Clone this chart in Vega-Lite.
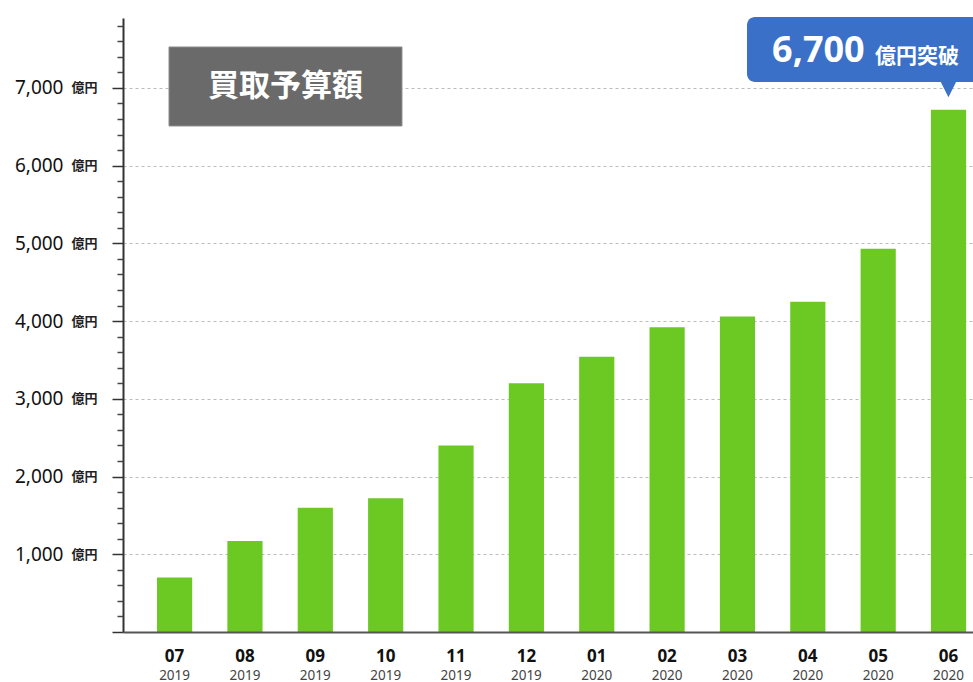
{
  "$schema": "https://vega.github.io/schema/vega-lite/v6.json",
  "width": 850,
  "height": 614,
  "autosize": {"type": "none"},
  "padding": {"left": 123, "top": 18, "right": 0, "bottom": 50},
  "background": "white",
  "config": {"view": {"stroke": null}},
  "data": {
    "values": [
      {"period": "2019-07", "value": 700},
      {"period": "2019-08", "value": 1170},
      {"period": "2019-09", "value": 1600},
      {"period": "2019-10", "value": 1720},
      {"period": "2019-11", "value": 2400},
      {"period": "2019-12", "value": 3200},
      {"period": "2020-01", "value": 3540},
      {"period": "2020-02", "value": 3920},
      {"period": "2020-03", "value": 4060},
      {"period": "2020-04", "value": 4250},
      {"period": "2020-05", "value": 4930},
      {"period": "2020-06", "value": 6720}
    ]
  },
  "resolve": {"scale": {"x": "independent"}, "axis": {"x": "independent", "y": "independent"}},
  "layer": [
    {
      "mark": {"type": "bar", "color": "#6cc924"},
      "encoding": {
        "x": {
          "field": "period", "type": "nominal", "sort": null,
          "scale": {"paddingInner": 0.5, "paddingOuter": 0.2904, "align": 0.832, "round": false},
          "axis": {
            "orient": "bottom", "title": null, "labelExpr": "slice(datum.label, 5)",
            "ticks": false, "labelPadding": 29, "labelBaseline": "alphabetic", "labelAngle": 0,
            "labelFont": "Noto Sans", "labelFontSize": 17, "labelFontWeight": "bold", "labelColor": "#111111",
            "domainColor": "#555555", "domainWidth": 2, "zindex": 1
          }
        },
        "y": {
          "field": "value", "type": "quantitative",
          "scale": {"domain": [0, 7900], "nice": false, "zero": true},
          "axis": {
            "orient": "left", "title": null,
            "values": [0, 1000, 2000, 3000, 4000, 5000, 6000, 7000],
            "labelExpr": "datum.value == 0 ? '' : format(datum.value, ',')",
            "tickSize": 11, "tickWidth": 1.5, "tickColor": "#333333",
            "domainColor": "#333333", "domainWidth": 2,
            "labelPadding": 49, "labelFont": "Noto Sans", "labelFontSize": 19, "labelColor": "#111111",
            "grid": true, "gridDash": [3, 3], "gridColor": "#bbbbbb", "gridWidth": 1
          }
        }
      }
    },
    {
      "mark": {"type": "bar", "opacity": 0},
      "encoding": {
        "x": {
          "field": "period", "type": "nominal", "sort": null,
          "scale": {"paddingInner": 0.5, "paddingOuter": 0.2904, "align": 0.832, "round": false},
          "axis": {
            "orient": "bottom", "title": null, "labelExpr": "slice(datum.label, 0, 4)",
            "ticks": false, "domain": false, "labelPadding": 47, "labelBaseline": "alphabetic", "labelAngle": 0,
            "labelFont": "Noto Sans", "labelFontSize": 13.5, "labelColor": "#444444"
          }
        },
        "y": {
          "field": "value", "type": "quantitative",
          "scale": {"domain": [0, 7900], "nice": false, "zero": true},
          "axis": {
            "orient": "left", "title": null,
            "values": [1000, 2000, 3000, 4000, 5000, 6000, 7000],
            "labelExpr": "'億円'", "ticks": false, "domain": false, "grid": false,
            "labelPadding": 26, "labelFont": "Noto Sans CJK JP", "labelFontSize": 13,
            "labelFontWeight": "bold", "labelColor": "#222222"
          }
        }
      }
    },
    {
      "mark": {"type": "bar", "opacity": 0},
      "encoding": {
        "x": {
          "field": "period", "type": "nominal", "sort": null,
          "scale": {"paddingInner": 0.5, "paddingOuter": 0.2904, "align": 0.832, "round": false},
          "axis": null
        },
        "y": {
          "field": "value", "type": "quantitative",
          "scale": {"domain": [0, 7900], "nice": false, "zero": true},
          "axis": {
            "orient": "left", "title": null,
            "values": [200, 400, 600, 800, 1200, 1400, 1600, 1800, 2200, 2400, 2600, 2800, 3200, 3400, 3600, 3800, 4200, 4400, 4600, 4800, 5200, 5400, 5600, 5800, 6200, 6400, 6600, 6800, 7200, 7400, 7600, 7800],
            "labels": false, "domain": false, "grid": false,
            "tickSize": 6, "tickWidth": 1.5, "tickColor": "#444444"
          }
        }
      }
    },
    {
      "data": {"values": [{}]},
      "mark": {"type": "rect", "color": "#6a6a6a", "stroke": "#8c8c8c", "strokeWidth": 1},
      "encoding": {
        "x": {"datum": -0.078, "type": "quantitative", "scale": {"domain": [-0.732, 11.349], "nice": false, "zero": false}, "axis": null},
        "x2": {"datum": 3.233},
        "y": {"datum": 7527, "type": "quantitative", "scale": {"domain": [0, 7900], "nice": false, "zero": true}, "axis": null},
        "y2": {"datum": 6511}
      }
    },
    {
      "data": {"values": [{}]},
      "mark": {"type": "text", "text": "買取予算額", "color": "white", "font": "Noto Sans CJK JP", "fontSize": 31, "fontWeight": "bold", "align": "center", "baseline": "middle"},
      "encoding": {
        "x": {"datum": 1.578, "type": "quantitative", "scale": {"domain": [-0.732, 11.349], "nice": false, "zero": false}, "axis": null},
        "y": {"datum": 7012, "type": "quantitative", "scale": {"domain": [0, 7900], "nice": false, "zero": true}, "axis": null}
      }
    },
    {
      "data": {"values": [{}]},
      "mark": {"type": "rect", "color": "#3a70c8", "cornerRadius": 8},
      "encoding": {
        "x": {"datum": 8.137, "type": "quantitative", "scale": {"domain": [-0.732, 11.349], "nice": false, "zero": false}, "axis": null},
        "x2": {"datum": 12.0},
        "y": {"datum": 7913, "type": "quantitative", "scale": {"domain": [0, 7900], "nice": false, "zero": true}, "axis": null},
        "y2": {"datum": 7077}
      }
    },
    {
      "data": {"values": [{}]},
      "mark": {"type": "point", "shape": "M-1,-0.2L1,-0.2L0,1.8Z", "filled": true, "color": "#3a70c8", "size": 289, "opacity": 1, "strokeWidth": 0},
      "encoding": {
        "x": {"datum": 11.0, "type": "quantitative", "scale": {"domain": [-0.732, 11.349], "nice": false, "zero": false}, "axis": null},
        "y": {"datum": 7077, "type": "quantitative", "scale": {"domain": [0, 7900], "nice": false, "zero": true}, "axis": null}
      }
    },
    {
      "data": {"values": [{}]},
      "mark": {"type": "text", "text": "6,700", "color": "white", "font": "Noto Sans", "fontSize": 36, "fontWeight": "bold", "align": "left", "baseline": "alphabetic"},
      "encoding": {
        "x": {"datum": 8.493, "type": "quantitative", "scale": {"domain": [-0.732, 11.349], "nice": false, "zero": false}, "axis": null},
        "y": {"datum": 7334, "type": "quantitative", "scale": {"domain": [0, 7900], "nice": false, "zero": true}, "axis": null}
      }
    },
    {
      "data": {"values": [{}]},
      "mark": {"type": "text", "text": "億円突破", "color": "white", "font": "Noto Sans CJK JP", "fontSize": 21, "fontWeight": "bold", "align": "left", "baseline": "alphabetic"},
      "encoding": {
        "x": {"datum": 9.956, "type": "quantitative", "scale": {"domain": [-0.732, 11.349], "nice": false, "zero": false}, "axis": null},
        "y": {"datum": 7321, "type": "quantitative", "scale": {"domain": [0, 7900], "nice": false, "zero": true}, "axis": null}
      }
    }
  ]
}
